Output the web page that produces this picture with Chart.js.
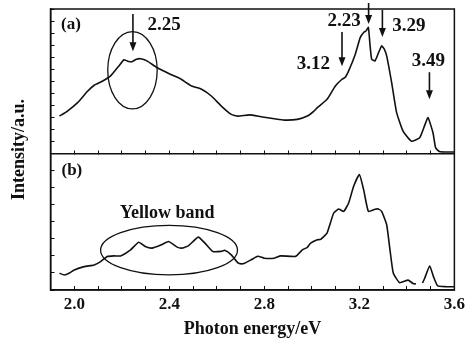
<!DOCTYPE html>
<html>
<head>
<meta charset="utf-8">
<script src="https://cdn.jsdelivr.net/npm/chart.js@4.4.1/dist/chart.umd.min.js"></script>
<style>
  html, body { margin: 0; padding: 0; background: #fff; }
  #wrap { width: 473px; height: 340px; }
</style>
</head>
<body>
<div id="wrap"><canvas id="plChart"></canvas></div>
<script>
// photon energy (eV) and intensity (a.u.)
const energyA = [1.938, 1.97, 2.014, 2.056, 2.084, 2.118, 2.153, 2.188, 2.209, 2.225, 2.243, 2.262, 2.279, 2.306,
  2.348, 2.404, 2.445, 2.494, 2.536, 2.577, 2.619, 2.661, 2.689, 2.738, 2.786, 2.842, 2.884, 2.939, 2.981,
  3.009, 3.023, 3.064, 3.099, 3.127, 3.141, 3.155, 3.183, 3.204, 3.22, 3.229, 3.238, 3.245, 3.252, 3.266,
  3.28, 3.294, 3.305, 3.315, 3.336, 3.357, 3.384, 3.419, 3.454, 3.475, 3.489, 3.51, 3.521, 3.537, 3.56, 3.6];
const intensityA = [37.3, 42, 50.7, 62, 68, 72, 77.3, 87.3, 93.5, 92, 91.5, 94, 94.5, 92.3,
  85.7, 79, 74.7, 67.3, 64, 57.3, 47.3, 39, 37.3, 38.5, 36.7, 34.7, 33.3, 34, 37.3,
  42.3, 45.7, 54, 67.3, 74, 76, 82.3, 99, 115.7, 121, 122.3, 125.7, 108, 94, 92.3,
  100, 107.3, 104, 97.3, 70.7, 40.7, 22.3, 12.3, 15.7, 28, 35.7, 20.7, 5.7, 2, 1.5, 1.5];

const energyB = [1.938, 1.958, 1.98, 2.0, 2.042, 2.084, 2.111, 2.139, 2.167, 2.195, 2.237, 2.271, 2.299, 2.327,
  2.362, 2.397, 2.431, 2.452, 2.48, 2.522, 2.55, 2.584, 2.619, 2.633, 2.661, 2.689, 2.703, 2.717, 2.744,
  2.772, 2.8, 2.842, 2.869, 2.932, 2.96, 2.981, 2.995, 3.023, 3.037, 3.064, 3.092, 3.113, 3.134, 3.155,
  3.176, 3.2, 3.218, 3.238, 3.266, 3.28, 3.294, 3.315, 3.329, 3.343, 3.37, 3.405, 3.426, 3.438, 3.452,
  3.466, 3.475, 3.496, 3.512, 3.53, 3.565, 3.6];
const intensityB = [16.7, 15, 17, 20, 23.3, 25, 28.3, 33.3, 34, 34, 40, 47.5, 43.3, 41.7,
  44.5, 48.3, 43, 41.7, 44, 52.7, 46.7, 38.3, 38.5, 39.5, 35, 27, 26, 26.7, 30,
  33.7, 31.7, 31.7, 34, 33.5, 40, 42.5, 46.7, 50, 50.5, 56.7, 76.7, 80.7, 78.3, 86.7,
  103.3, 115, 100, 78.3, 80.5, 80.7, 78.3, 65, 40, 16.7, 7.3, 9.8, 6.5, 6, null,
  7, 11.7, 24, 13.3, 4, 3.3, 3.3];

const xTickLabels = ["2.0", "2.4", "2.8", "3.2", "3.6"];

// annotations, in data units of each panel
const peakArrowsA = [
  { x: 2.247, from: 139, to: 102 },
  { x: 3.239, from: 150, to: 129 },
  { x: 3.297, from: 143, to: 116 },
  { x: 3.127, from: 121, to: 87 },
  { x: 3.495, from: 81, to: 54 }
];
const notesA = [
  { text: "(a)", x: 1.986, y: 128.5, size: 17 },
  { text: "2.25", x: 2.378, y: 127.5, size: 19 },
  { text: "2.23", x: 3.136, y: 132, size: 19 },
  { text: "3.29", x: 3.408, y: 126.5, size: 19 },
  { text: "3.12", x: 3.007, y: 89.5, size: 19 },
  { text: "3.49", x: 3.491, y: 92.5, size: 19 }
];
const notesB = [
  { text: "(b)", x: 1.99, y: 119, size: 17 },
  { text: "Yellow band", x: 2.391, y: 76.5, size: 18 }
];
const ringA = { x: 2.245, y: 83, rx: 0.104, ry: 38.5 };
const ringB = { x: 2.399, y: 39.7, rx: 0.288, ry: 24.7 };

const INK = "#111";
const SERIF = "'Liberation Serif', 'DejaVu Serif', serif";

function toPoints(xs, ys) {
  return xs.map((x, i) => ({ x: x, y: ys[i] }));
}

const annotations = {
  id: "annotations",
  afterDatasetsDraw(chart) {
    const ctx = chart.ctx;
    const a = chart.chartArea;
    const sx = chart.scales.x, ya = chart.scales.ya, yb = chart.scales.yb;
    ctx.save();
    ctx.strokeStyle = INK;
    ctx.fillStyle = INK;
    ctx.lineWidth = 1.5;
    ctx.strokeRect(a.left, a.top, a.right - a.left, a.bottom - a.top);

    peakArrowsA.forEach(p => {
      const px = sx.getPixelForValue(p.x);
      const y0 = ya.getPixelForValue(p.from), y1 = ya.getPixelForValue(p.to);
      ctx.lineWidth = 1.6;
      ctx.beginPath();
      ctx.moveTo(px, y0);
      ctx.lineTo(px, y1 - 6);
      ctx.stroke();
      ctx.beginPath();
      ctx.moveTo(px, y1);
      ctx.lineTo(px - 3.5, y1 - 9);
      ctx.lineTo(px + 3.5, y1 - 9);
      ctx.closePath();
      ctx.fill();
    });

    [[ringA, ya], [ringB, yb]].forEach(([r, ys]) => {
      const cx = sx.getPixelForValue(r.x), cy = ys.getPixelForValue(r.y);
      const rx = sx.getPixelForValue(r.x + r.rx) - cx;
      const ry = cy - ys.getPixelForValue(r.y + r.ry);
      ctx.lineWidth = 1.3;
      ctx.beginPath();
      ctx.ellipse(cx, cy, rx, ry, 0, 0, Math.PI * 2);
      ctx.stroke();
    });

    ctx.textAlign = "center";
    ctx.textBaseline = "middle";
    [[notesA, ya], [notesB, yb]].forEach(([list, ys]) => {
      list.forEach(n => {
        ctx.font = "bold " + n.size + "px " + SERIF;
        ctx.fillText(n.text, sx.getPixelForValue(n.x), ys.getPixelForValue(n.y));
      });
    });
    ctx.restore();
  }
};

const tickGrid = { drawOnChartArea: false, tickLength: -4, color: INK, lineWidth: 1 };
const frameBorder = { color: INK, width: 1.5 };

new Chart(document.getElementById("plChart"), {
  type: "line",
  data: {
    datasets: [
      { label: "(a)", data: toPoints(energyA, intensityA), xAxisID: "x", yAxisID: "ya" },
      { label: "(b)", data: toPoints(energyB, intensityB), xAxisID: "x", yAxisID: "yb" }
    ]
  },
  options: {
    responsive: true,
    maintainAspectRatio: false,
    animation: false,
    layout: { padding: { top: 9, right: 15, left: 0, bottom: 0 } },
    elements: {
      line: { borderColor: INK, borderWidth: 1.6, tension: 0.15, fill: false },
      point: { radius: 0 }
    },
    plugins: { legend: { display: false }, tooltip: { enabled: false } },
    scales: {
      x: {
        type: "linear", axis: "x", position: "bottom", min: 1.9, max: 3.6,
        ticks: {
          stepSize: 0.1, autoSkip: false, maxRotation: 0, padding: 8, color: INK,
          font: { family: SERIF, size: 17, weight: "bold" },
          callback: v => xTickLabels.includes(v.toFixed(1)) ? v.toFixed(1) : ""
        },
        grid: tickGrid,
        border: frameBorder,
        title: {
          display: true, text: "Photon energy/eV", color: INK,
          font: { family: SERIF, size: 18, weight: "bold" }, padding: { top: 2, bottom: 0 }
        },
        afterFit: s => { s.height = 50; }
      },
      xa: {
        type: "linear", axis: "x", position: { ya: 0 }, min: 1.9, max: 3.6,
        ticks: { stepSize: 0.1, display: false },
        grid: tickGrid,
        border: frameBorder,
        afterFit: s => { s.height = 0; }
      },
      yb: {
        type: "linear", axis: "y", position: "left", min: 0, max: 136,
        stack: "panels", stackWeight: 136, weight: 0,
        ticks: { stepSize: 17, display: false },
        grid: tickGrid,
        border: frameBorder,
        afterFit: s => { s.width = 0; }
      },
      ya: {
        type: "linear", axis: "y", position: "left", min: 0, max: 144,
        stack: "panels", stackWeight: 144, weight: 1,
        ticks: { stepSize: 12, display: false },
        grid: tickGrid,
        border: frameBorder,
        afterFit: s => { s.width = 0; }
      },
      yt: {
        type: "linear", axis: "y", position: "left", weight: 10,
        ticks: { display: false },
        grid: { display: false },
        border: { display: false },
        title: {
          display: true, text: "Intensity/a.u.", color: INK,
          font: { family: SERIF, size: 18, weight: "bold" }, padding: { top: 9, bottom: 0 }
        },
        afterFit: s => { s.width = 50.5; }
      }
    }
  },
  plugins: [annotations]
});
</script>
</body>
</html>
